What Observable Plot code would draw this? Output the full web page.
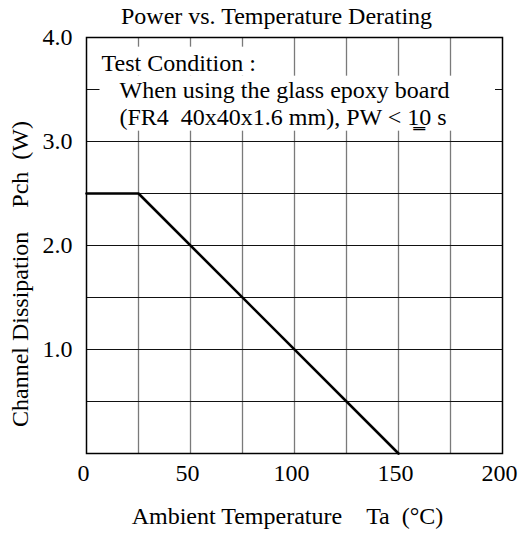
<!DOCTYPE html>
<html><head><meta charset="utf-8">
<script src="https://cdn.jsdelivr.net/npm/d3@7"></script>
<script src="https://cdn.jsdelivr.net/npm/@observablehq/plot@0.6"></script>
<style>body{margin:0;background:#fff} svg{overflow:visible}</style>
</head><body><div id="chart"></div>
<script>
const titleText = "Power vs. Temperature Derating";
const xLabel = "Ambient Temperature\u00a0\u00a0\u00a0\u00a0Ta\u00a0\u00a0(°C)";
const yLabel = "Channel Dissipation\u00a0\u00a0\u00a0\u00a0Pch\u00a0\u00a0(W)";
const temperature = [0, 25, 150];
const power = [2.5, 2.5, 0];
const xTicks = [0, 50, 100, 150, 200];
const yTicks = [1, 2, 3, 4];
const xGrid = [25, 50, 75, 100, 125, 150, 175];
const yGrid = [0.5, 1, 1.5, 2, 2.5, 3, 3.5];
const noteLines = [
  "Test Condition :",
  "\u00a0\u00a0\u00a0When using the glass epoxy board",
  "\u00a0\u00a0\u00a0(FR4\u00a0\u00a040x40x1.6 mm), PW < 1\u03330 s"
];

const W = 521, H = 533, mt = 37, mr = 19, mb = 80, ml = 86;
const font = "'Liberation Serif', 'Times New Roman', serif";
const fs = 24;
const rows = temperature.map((t, i) => ({t, p: power[i]}));

const plot = Plot.plot({
  width: W, height: H,
  marginTop: mt, marginRight: mr, marginBottom: mb, marginLeft: ml,
  style: {fontFamily: font, fontSize: fs + "px", color: "#000", background: "#fff", overflow: "visible"},
  x: {domain: [0, 200]},
  y: {domain: [0, 4]},
  marks: [
    Plot.ruleX(xGrid, {stroke: "#7a7a7a", strokeWidth: 1.3}),
    Plot.ruleY(yGrid, {stroke: "#111", strokeWidth: 1}),
    Plot.axisX(xTicks, {tickSize: 0, tickPadding: 10, label: null, fontSize: fs, dx: -3}),
    Plot.axisY(yTicks, {tickSize: 0, tickPadding: 14, tickFormat: d3.format(".1f"), label: null, fontSize: fs}),
    Plot.frame({stroke: "#000", strokeWidth: 1.5}),
    Plot.line(rows, {x: "t", y: "p", stroke: "#000", strokeWidth: 2.6}),
    Plot.text([noteLines.join("\n")], {frameAnchor: "top-left", textAnchor: "start", lineAnchor: "top", lineHeight: 1.125, dx: 15, dy: 14, fontSize: fs, fill: "#000"}),
    Plot.text([titleText], {frameAnchor: "top", textAnchor: "middle", lineAnchor: "middle", dx: -18, dy: -20.7, fontSize: fs, fill: "#000"}),
    Plot.text([xLabel], {frameAnchor: "bottom", textAnchor: "middle", lineAnchor: "middle", dx: -7, dy: 63, fontSize: fs, fill: "#000"}),
    Plot.text([yLabel], {frameAnchor: "left", textAnchor: "middle", lineAnchor: "middle", rotate: -90, dx: -66, dy: 28.5, fontSize: fs, fill: "#000"})
  ]
});
document.getElementById("chart").append(plot);

// white background behind the test-condition note, sized from the rendered text
const note = [...plot.querySelectorAll("text")].find(t => t.textContent.startsWith("Test Condition"));
if (note) {
  const sr = plot.getBoundingClientRect();
  const spans = [...note.querySelectorAll("tspan")];
  const bx = spans.map(s => {
    const b = s.getBoundingClientRect();
    return {x0: b.left - sr.left, x1: b.right - sr.left, y0: b.top - sr.top, y1: b.bottom - sr.top};
  });
  const group = note.parentNode;
  const left = bx[0].x0 - 2;
  const boxes = [
    {x: left, y: bx[0].y0 - 3, w: bx[0].x1 + 6 - left, h: bx[0].y1 - bx[0].y0 + 3},
    {x: left, y: bx[0].y1, w: (W - mr - 7) - left, h: bx[bx.length - 1].y1 - bx[0].y1}
  ];
  const g = d3.create("svg:g");
  for (const b of boxes) g.append("rect").attr("x", b.x).attr("y", b.y).attr("width", b.w).attr("height", b.h).attr("fill", "#fff");
  group.parentNode.insertBefore(g.node(), group);
}
</script>
</body></html>
